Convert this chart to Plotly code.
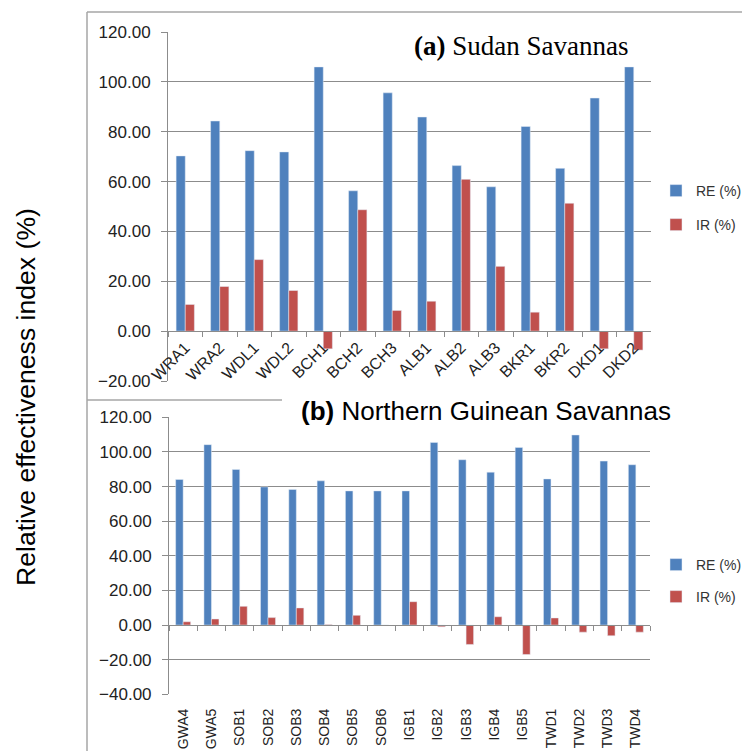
import plotly.graph_objects as go

# (a) Sudan Savannas
sites_a = ['WRA1', 'WRA2', 'WDL1', 'WDL2', 'BCH1', 'BCH2', 'BCH3',
           'ALB1', 'ALB2', 'ALB3', 'BKR1', 'BKR2', 'DKD1', 'DKD2']
re_a = [70.3, 84.3, 72.4, 71.9, 106.0, 56.3, 95.6,
        85.9, 66.4, 57.9, 82.1, 65.3, 93.5, 106.0]
ir_a = [10.7, 17.9, 28.7, 16.3, -7.1, 48.7, 8.3,
        12.0, 60.9, 26.0, 7.6, 51.3, -7.1, -7.6]

# (b) Northern Guinean Savannas
sites_b = ['GWA4', 'GWA5', 'SOB1', 'SOB2', 'SOB3', 'SOB4', 'SOB5', 'SOB6',
           'IGB1', 'IGB2', 'IGB3', 'IGB4', 'IGB5', 'TWD1', 'TWD2', 'TWD3', 'TWD4']
re_b = [84.1, 104.2, 89.9, 79.8, 78.3, 83.3, 77.5, 77.5,
        77.5, 105.5, 95.5, 88.3, 102.6, 84.4, 109.8, 94.7, 92.6]
ir_b = [1.9, 3.5, 10.8, 4.3, 9.9, 0.3, 5.6, 0.0,
        13.5, -1.0, -11.2, 4.8, -17.0, 4.1, -4.1, -6.2, -4.1]

W, H = 750, 751
OFF = 8  # page body margin
blue = '#4F81BD'
red = '#C0504D'
grey = '#8c8c8c'
font = 'Liberation Sans'


def px(x):
    return (x - OFF) / W


def py(y):
    return 1 - (y - OFF) / H


dom_a = [py(381), py(32)]
dom_b = [py(694.3), py(417.3)]
zero_a = dom_a[0] + (dom_a[1] - dom_a[0]) * 20 / 140
zero_b = dom_b[0] + (dom_b[1] - dom_b[0]) * 40 / 160

fig = go.Figure()
fig.add_trace(go.Bar(x=sites_a, y=re_a, name='RE (%)', marker_color=blue,
                     xaxis='x', yaxis='y', legend='legend'))
fig.add_trace(go.Bar(x=sites_a, y=ir_a, name='IR (%)', marker_color=red,
                     xaxis='x', yaxis='y', legend='legend2'))
fig.add_trace(go.Bar(x=sites_b, y=re_b, name='RE (%)', marker_color=blue,
                     xaxis='x2', yaxis='y2', legend='legend3'))
fig.add_trace(go.Bar(x=sites_b, y=ir_b, name='IR (%)', marker_color=red,
                     xaxis='x2', yaxis='y2', legend='legend4'))

yax = dict(range=[-20, 120], dtick=20, tickformat='.2f', showgrid=True,
           gridcolor=grey, gridwidth=1, showline=True, linecolor=grey,
           ticks='outside', ticklen=6, tickcolor=grey, zeroline=False,
           tickfont=dict(family=font, size=17, color='#222'),
           ticklabelstandoff=7)

leg = dict(yanchor='middle', xanchor='left', itemwidth=30, borderwidth=0,
           bgcolor='rgba(0,0,0,0)', font=dict(family=font, size=14, color='#333'))

fig.update_layout(
    width=W, height=H,
    margin=dict(l=0, r=0, t=0, b=0, autoexpand=False),
    paper_bgcolor='white', plot_bgcolor='white',
    showlegend=True,
    bargap=0.47, bargroupgap=0,
    xaxis=dict(domain=[px(168), px(651)], anchor='free', position=zero_a,
               showline=True, linecolor=grey, ticks='outside', ticklen=5,
               tickcolor=grey, tickson='boundaries', tickangle=-45,
               showgrid=False, tickfont=dict(family=font, size=16, color='#222')),
    yaxis=dict(yax, domain=dom_a, anchor='x'),
    xaxis2=dict(domain=[px(169), px(650)], anchor='free', position=zero_b,
                showline=True, linecolor=grey, ticks='outside', ticklen=5,
                tickcolor=grey, tickson='boundaries', tickangle=-90,
                ticklabelstandoff=77, showgrid=False,
                tickfont=dict(family=font, size=14, color='#222')),
    yaxis2=dict(yax, domain=dom_b, anchor='x2', range=[-40, 120]),
    legend=dict(leg, x=px(656), y=py(191)),
    legend2=dict(leg, x=px(656), y=py(225)),
    legend3=dict(leg, x=px(656), y=py(565)),
    legend4=dict(leg, x=px(656), y=py(597)),
)

# frame lines and the white title boxes that hide part of the charts
fig.add_shape(type='line', xref='paper', yref='paper', x0=px(87), x1=1,
              y0=py(12), y1=py(12), line=dict(color='#a6a6a6', width=1.5))
fig.add_shape(type='line', xref='paper', yref='paper', x0=px(87), x1=px(87),
              y0=py(12), y1=0, line=dict(color='#a6a6a6', width=1.5))
fig.add_shape(type='line', xref='paper', yref='paper', x0=px(87), x1=px(282),
              y0=py(400), y1=py(400), line=dict(color='#a6a6a6', width=1.5))
fig.add_shape(type='rect', xref='paper', yref='y', x0=px(300), x1=px(660),
              y0=106.3, y1=122, fillcolor='white', line_width=0, layer='above')
fig.add_shape(type='rect', xref='paper', yref='y2', x0=px(282), x1=px(660),
              y0=115, y1=123, fillcolor='white', line_width=0, layer='above')

fig.add_annotation(text='<b>(a)</b> Sudan Savannas', xref='paper', yref='paper',
                   x=px(521), y=py(46), xanchor='center', yanchor='middle',
                   showarrow=False,
                   font=dict(family='Liberation Serif', size=27, color='black'))
fig.add_annotation(text='<b>(b)</b> Northern Guinean Savannas', xref='paper',
                   yref='paper', x=px(486), y=py(411), xanchor='center',
                   yanchor='middle', showarrow=False,
                   font=dict(family=font, size=26, color='black'))
fig.add_annotation(text='Relative effectiveness index (%)', xref='paper',
                   yref='paper', x=px(26), y=py(397), xanchor='center',
                   yanchor='middle', textangle=-90, showarrow=False,
                   font=dict(family=font, size=26.6, color='black'))

fig.write_html("out.html")
